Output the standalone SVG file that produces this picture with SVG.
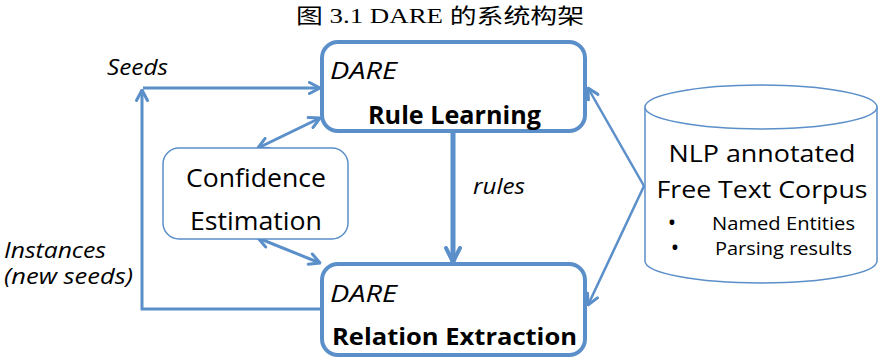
<svg xmlns="http://www.w3.org/2000/svg" width="878" height="360" viewBox="0 0 878 360">
<style>
.t{font-family:"Open Sans","Noto Sans",sans-serif;fill:#000}
.i{font-style:italic}
.b{font-weight:bold}
.box{fill:#fff;stroke:#5B8FC9;stroke-width:4}
.thin{fill:#fff;stroke:#5B8FC9;stroke-width:1.5}
.ln{fill:none;stroke:#5B8FC9;stroke-width:3;stroke-linejoin:miter}
.title{font-family:"Liberation Serif","Noto Sans CJK SC",serif;font-size:21px;fill:#000}
</style>
<defs>
<marker id="a" viewBox="0 0 14 14" refX="12.5" refY="7" markerWidth="14" markerHeight="14" markerUnits="userSpaceOnUse" orient="auto-start-reverse">
<path d="M2,1.5 L12.5,7 L2,12.5" fill="none" stroke="#5B8FC9" stroke-width="3" stroke-linecap="round" stroke-linejoin="round"/>
</marker>
<marker id="big" viewBox="0 0 18 18" refX="16" refY="9" markerWidth="18" markerHeight="18" markerUnits="userSpaceOnUse" orient="auto">
<path d="M2,2 L16,9 L2,16" fill="none" stroke="#5B8FC9" stroke-width="4" stroke-linecap="round" stroke-linejoin="round"/>
</marker>
</defs>
<rect width="878" height="360" fill="#fff"/>
<text class="title" x="440" y="23" text-anchor="middle" textLength="288" lengthAdjust="spacingAndGlyphs">图 3.1 DARE 的系统构架</text>

<g id="connectors">
<path class="ln" d="M322,309 L142,309 L142,90" marker-end="url(#a)"/>
<path class="ln" d="M143,88 L320,88" marker-end="url(#a)"/>
<path class="ln" d="M258,148 L320,118" marker-start="url(#a)" marker-end="url(#a)"/>
<path class="ln" d="M258,238 L320,263" marker-start="url(#a)" marker-end="url(#a)"/>
<path class="ln" style="stroke-width:5" d="M453,133 L453,262" marker-end="url(#big)"/>
<path class="ln" style="stroke-width:2.5" d="M644,186 L588,88" marker-end="url(#a)"/>
<path class="ln" style="stroke-width:2.5" d="M644,186 L588,305" marker-end="url(#a)"/>
<text class="t i" x="107" y="75" font-size="21" textLength="61" lengthAdjust="spacingAndGlyphs">Seeds</text>
<text class="t i" x="4" y="258" font-size="21" textLength="102" lengthAdjust="spacingAndGlyphs">Instances</text>
<text class="t i" x="4" y="284" font-size="21" textLength="129" lengthAdjust="spacingAndGlyphs">(new seeds)</text>
<text class="t i" x="473" y="194" font-size="21" textLength="52" lengthAdjust="spacingAndGlyphs">rules</text>
</g>

<g id="rule-learning">
<rect class="box" x="322" y="42" width="263" height="89" rx="16"/>
<text class="t i" x="330" y="79" font-size="24" textLength="67" lengthAdjust="spacingAndGlyphs">DARE</text>
<text class="t b" x="368" y="124" font-size="25" textLength="173" lengthAdjust="spacingAndGlyphs">Rule Learning</text>
</g>

<g id="relation-extraction">
<rect class="box" x="322" y="264" width="263" height="91" rx="16"/>
<text class="t i" x="330" y="302" font-size="24" textLength="67" lengthAdjust="spacingAndGlyphs">DARE</text>
<text class="t b" x="332" y="345" font-size="24" textLength="245" lengthAdjust="spacingAndGlyphs">Relation Extraction</text>
</g>

<g id="confidence-estimation">
<rect class="thin" x="163" y="148" width="185" height="91" rx="16"/>
<text class="t" x="186" y="187" font-size="25" textLength="140" lengthAdjust="spacingAndGlyphs">Confidence</text>
<text class="t" x="190" y="230" font-size="25" textLength="132" lengthAdjust="spacingAndGlyphs">Estimation</text>
</g>

<g id="corpus">
<path class="thin" d="M645,107 L645,261 A116,22 0 0 0 877,261 L877,107"/>
<ellipse class="thin" cx="761" cy="107" rx="116" ry="22"/>
<text class="t" x="762" y="162" font-size="24" text-anchor="middle" textLength="187" lengthAdjust="spacingAndGlyphs">NLP annotated</text>
<text class="t" x="762" y="198" font-size="24" text-anchor="middle" textLength="211" lengthAdjust="spacingAndGlyphs">Free Text Corpus</text>
<text class="t b" x="672" y="229" font-size="17" text-anchor="middle">•</text>
<text class="t" x="712" y="230" font-size="19" textLength="143" lengthAdjust="spacingAndGlyphs">Named Entities</text>
<text class="t b" x="675" y="254" font-size="17" text-anchor="middle">•</text>
<text class="t" x="715" y="255" font-size="19" textLength="137" lengthAdjust="spacingAndGlyphs">Parsing results</text>
</g>
</svg>
